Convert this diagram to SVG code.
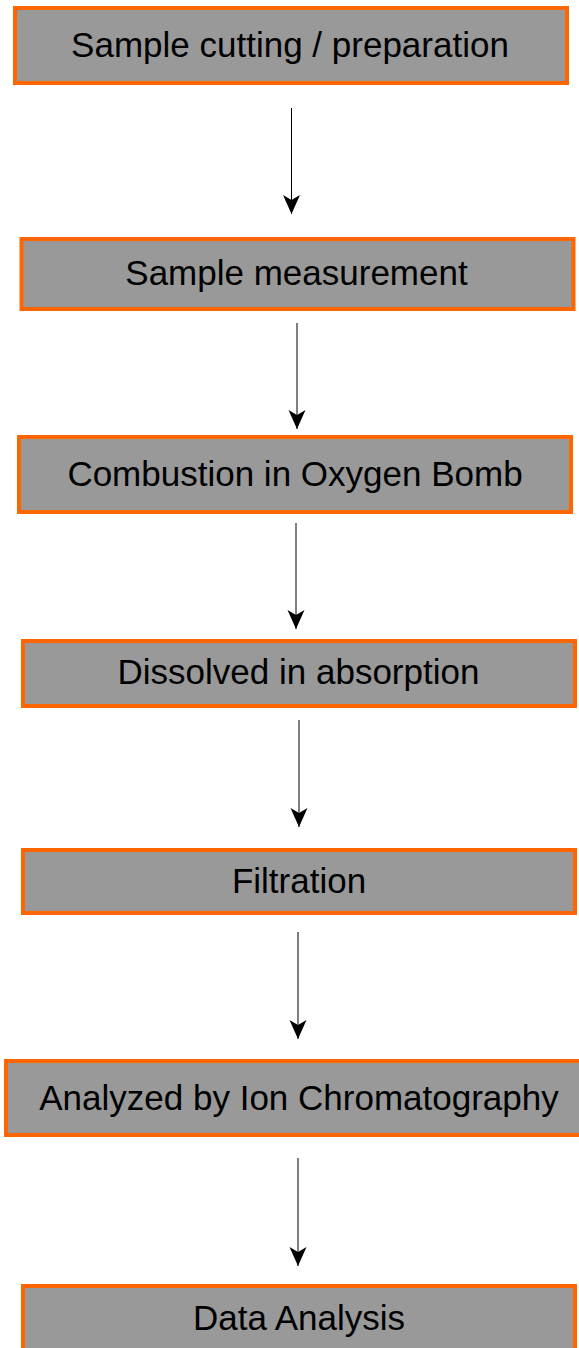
<svg xmlns="http://www.w3.org/2000/svg" width="579" height="1348" viewBox="0 0 579 1348">
<style>
.box{fill:#999999;stroke:#ff6600;stroke-width:4;}
.lbl{font-family:"Liberation Sans",Arial,sans-serif;font-size:35px;fill:#000;text-anchor:middle;}
.conn{stroke:#000;stroke-width:1;fill:none;marker-end:url(#arr);}
</style>
<defs>
<marker id="arr" markerUnits="userSpaceOnUse" markerWidth="20" markerHeight="18" viewBox="0 -9 20 18" refX="19" refY="0" orient="auto">
<path d="M0,-8.5 L19,0 L0,8.5 L5,0 Z" fill="#000"/>
</marker>
</defs>
<rect width="579" height="1348" fill="#fff"/>
<g id="n1"><rect class="box" x="15" y="8" width="552" height="75"/><text class="lbl" x="290" y="57">Sample cutting / preparation</text></g>
<g id="n2"><rect class="box" x="21.5" y="239" width="552" height="70"/><text class="lbl" x="296.5" y="285">Sample measurement</text></g>
<g id="n3"><rect class="box" x="19" y="437" width="552" height="75"/><text class="lbl" x="295" y="486">Combustion in Oxygen Bomb</text></g>
<g id="n4"><rect class="box" x="23" y="641" width="552" height="65"/><text class="lbl" x="298.5" y="684">Dissolved in absorption</text></g>
<g id="n5"><rect class="box" x="23" y="850" width="552" height="63"/><text class="lbl" x="299" y="893">Filtration</text></g>
<g id="n6"><rect class="box" x="6" y="1061" width="588" height="74"/><text class="lbl" x="299" y="1110">Analyzed by Ion Chromatography</text></g>
<g id="n7"><rect class="box" x="23" y="1286" width="552" height="80"/><text class="lbl" x="299" y="1330">Data Analysis</text></g>
<g id="connectors">
<line class="conn" x1="291.5" y1="108" x2="291.5" y2="214"/>
<line class="conn" x1="297" y1="323" x2="297" y2="429"/>
<line class="conn" x1="296" y1="523" x2="296" y2="629"/>
<line class="conn" x1="299" y1="720" x2="299" y2="827"/>
<line class="conn" x1="298" y1="932" x2="298" y2="1039"/>
<line class="conn" x1="298" y1="1158" x2="298" y2="1266"/>
</g>
</svg>
